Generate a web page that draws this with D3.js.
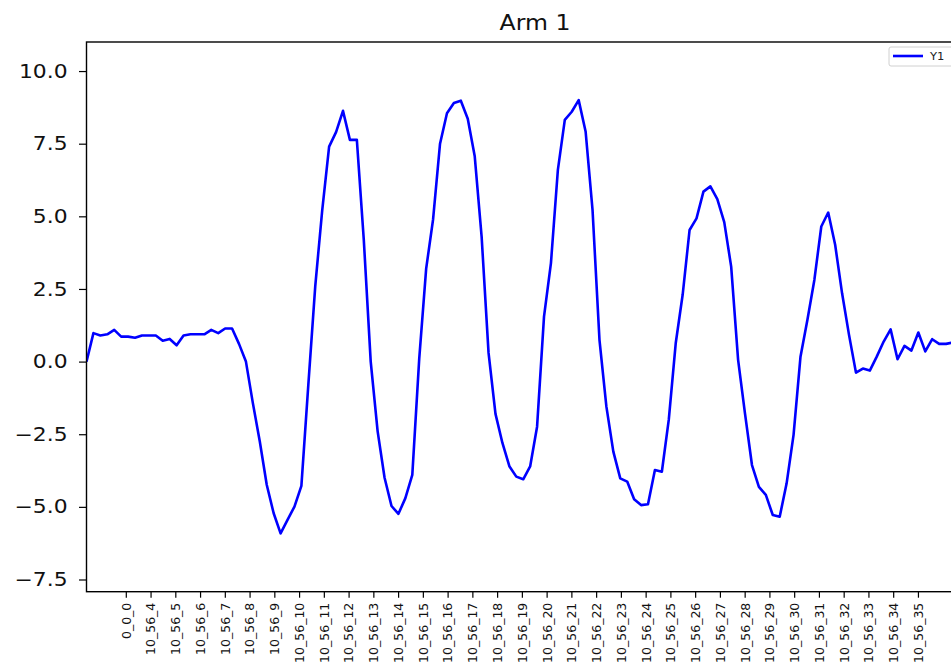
<!DOCTYPE html>
<html>
<head>
<meta charset="utf-8">
<script src="https://cdn.jsdelivr.net/npm/d3@7"></script>
<style>
  html, body { margin: 0; padding: 0; background: #fff; }
  svg { display: block; font-family: "DejaVu Sans", sans-serif; }
</style>
</head>
<body>
<svg id="chart" width="951" height="667"></svg>
<script>
/********/
/* data */
/********/

const title = "Arm 1";
const seriesName = "Y1";

// one value per sample
const y1 = [
  0.0, 0.98, 0.9, 0.94, 1.09, 0.86, 0.86, 0.82, 0.9, 0.9,
  0.9, 0.72, 0.78, 0.56, 0.9, 0.94, 0.94, 0.94, 1.09, 0.98,
  1.14, 1.14, 0.61, 0.0, -1.43, -2.75, -4.24, -5.22, -5.91, -5.45,
  -4.99, -4.28, -0.8, 2.6, 5.2, 7.4, 7.9, 8.63, 7.63, 7.63,
  4.2, 0.0, -2.4, -4.0, -4.97, -5.24, -4.7, -3.9, 0.1, 3.2,
  4.9, 7.5, 8.55, 8.9, 8.98, 8.36, 7.08, 4.3, 0.3, -1.8,
  -2.8, -3.6, -3.96, -4.05, -3.61, -2.24, 1.55, 3.39, 6.6, 8.32,
  8.6, 9.0, 7.92, 5.22, 0.75, -1.55, -3.1, -4.02, -4.13, -4.74,
  -4.94, -4.91, -3.73, -3.79, -2.0, 0.63, 2.3, 4.53, 4.93, 5.85,
  6.03, 5.59, 4.8, 3.27, 0.06, -1.8, -3.56, -4.31, -4.59, -5.28,
  -5.34, -4.19, -2.52, 0.17, 1.44, 2.81, 4.65, 5.13, 4.02, 2.35,
  0.92, -0.38, -0.24, -0.31, 0.17, 0.69, 1.11, 0.08, 0.54, 0.38,
  1.0, 0.35, 0.77, 0.61, 0.61, 0.66,
];

const xTickLabels = [
  "0_0_0", "10_56_4", "10_56_5", "10_56_6", "10_56_7", "10_56_8",
  "10_56_9", "10_56_10", "10_56_11", "10_56_12", "10_56_13", "10_56_14",
  "10_56_15", "10_56_16", "10_56_17", "10_56_18", "10_56_19", "10_56_20",
  "10_56_21", "10_56_22", "10_56_23", "10_56_24", "10_56_25", "10_56_26",
  "10_56_27", "10_56_28", "10_56_29", "10_56_30", "10_56_31", "10_56_32",
  "10_56_33", "10_56_34", "10_56_35",
];
// first labelled sample and samples per label, in sample units
const xTickStart = 5.67;
const xTickStep = 3.571;

const yTicks = [-7.5, -5.0, -2.5, 0.0, 2.5, 5.0, 7.5, 10.0];
const yDomain = [-7.92, 11.0];

/**********/
/* layout */
/**********/

const plot = { left: 86.5, top: 42, bottom: 591.7, right: 984 };
const textStretch = 1.15;

const svg = d3.select("#chart");

const x = d3
  .scaleLinear()
  .domain([0, y1.length - 1])
  .range([plot.left, 953]);

const y = d3
  .scaleLinear()
  .domain(yDomain)
  .range([plot.bottom, plot.top]);

/********/
/* view */
/********/

function lineView() {
  svg
    .append("clipPath")
    .attr("id", "plot-clip")
    .append("rect")
    .attr("x", plot.left)
    .attr("y", plot.top)
    .attr("width", plot.right - plot.left)
    .attr("height", plot.bottom - plot.top);

  const line = d3
    .line()
    .x((d, i) => x(i))
    .y(d => y(d));

  svg
    .append("path")
    .datum(y1)
    .attr("clip-path", "url(#plot-clip)")
    .attr("fill", "none")
    .attr("stroke", "#0000ff")
    .attr("stroke-width", 2.6)
    .attr("stroke-linejoin", "round")
    .attr("d", line);
}

function axesView() {
  const yAxis = d3
    .axisLeft(y)
    .tickValues(yTicks)
    .tickSize(7.5)
    .tickPadding(9);

  const gy = svg
    .append("g")
    .attr("transform", `translate(${plot.left},0)`)
    .call(yAxis);
  gy.select(".domain").remove();
  gy.selectAll("line").attr("stroke", "#000").attr("stroke-width", 1.2);
  gy.selectAll("text")
    .attr("font-size", 19)
    .attr("font-family", "DejaVu Sans")
    .attr("fill", "#111")
    .attr("transform", `scale(${textStretch},1)`)
    .text(d => d3.format(".1f")(d).replace("-", "\u2212"));

  const xAxis = d3
    .axisBottom(x)
    .tickValues(xTickLabels.map((_, k) => xTickStart + k * xTickStep))
    .tickFormat((_, k) => xTickLabels[k])
    .tickSize(6)
    .tickPadding(4);

  const gx = svg
    .append("g")
    .attr("transform", `translate(0,${plot.bottom})`)
    .call(xAxis);
  gx.select(".domain").remove();
  gx.selectAll("line").attr("stroke", "#000").attr("stroke-width", 1.2);
  gx.selectAll("text")
    .attr("font-size", 12.5)
    .attr("font-family", "DejaVu Sans")
    .attr("fill", "#111")
    .attr("text-anchor", "end")
    .attr("dy", "0.35em")
    .attr("x", -11)
    .attr("y", 0)
    .attr("transform", "rotate(-90)");

  // frame
  svg
    .append("rect")
    .attr("x", plot.left)
    .attr("y", plot.top)
    .attr("width", plot.right - plot.left)
    .attr("height", plot.bottom - plot.top)
    .attr("fill", "none")
    .attr("stroke", "#000")
    .attr("stroke-width", 1.4);
}

function titleView() {
  svg
    .append("text")
    .attr("transform", `translate(535,30) scale(${textStretch},1)`)
    .attr("text-anchor", "middle")
    .attr("font-size", 20.5)
    .attr("fill", "#111")
    .text(title);
}

function legendView() {
  const g = svg.append("g").attr("transform", "translate(889,47)");
  g.append("rect")
    .attr("width", 66)
    .attr("height", 19)
    .attr("rx", 2)
    .attr("fill", "#fff")
    .attr("fill-opacity", 0.8)
    .attr("stroke", "#d0d0d0");
  g.append("line")
    .attr("x1", 4)
    .attr("x2", 34)
    .attr("y1", 9)
    .attr("y2", 9)
    .attr("stroke", "#0000ff")
    .attr("stroke-width", 2.6);
  g.append("text")
    .attr("transform", `translate(41,12.5) scale(${textStretch},1)`)
    .attr("font-size", 10)
    .attr("fill", "#222")
    .text(seriesName);
}

lineView();
axesView();
titleView();
legendView();
</script>
</body>
</html>
